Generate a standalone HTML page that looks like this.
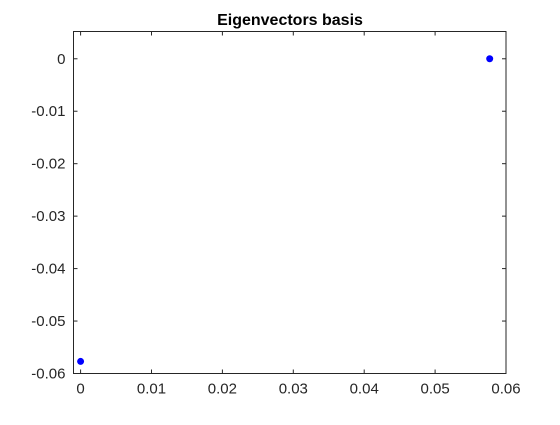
<!DOCTYPE html>
<html><head><meta charset="utf-8"><style>
body{margin:0;background:#fff;}
svg text{font-family:"Liberation Sans",sans-serif;}
</style></head><body>
<svg width="560" height="420" xmlns="http://www.w3.org/2000/svg">
<rect width="560" height="420" fill="#fff"/>
<text x="290" y="25" text-anchor="middle" font-size="16" font-weight="bold" fill="#000">Eigenvectors basis</text>
<g id="ticks"></g>
<g id="pts"></g>
<rect x="73.5" y="31.5" width="432.5" height="342" fill="none" stroke="#262626" stroke-width="1"/>
</svg>
<script>
const xTicks=[0,0.01,0.02,0.03,0.04,0.05,0.06];
const xTickLabels=["0","0.01","0.02","0.03","0.04","0.05","0.06"];
const yTicks=[0,-0.01,-0.02,-0.03,-0.04,-0.05,-0.06];
const yTickLabels=["0","-0.01","-0.02","-0.03","-0.04","-0.05","-0.06"];
const ptX=[0.0577,0];
const ptY=[0,-0.0577];
const L=73.5,R=506,T=31.5,B=373.5;
const xMin=-0.001,xMax=0.06,yMin=-0.06,yMax=0.0052;
const sx=v=>L+(v-xMin)/(xMax-xMin)*(R-L);
const sy=v=>B-(v-yMin)/(yMax-yMin)*(B-T);
const NS="http://www.w3.org/2000/svg";
const tg=document.getElementById('ticks');
function mk(tag,at){const e=document.createElementNS(NS,tag);for(const k in at)e.setAttribute(k,at[k]);return e;}
xTicks.forEach((v,i)=>{
 const x=sx(v);
 const t1=mk('line',{x1:x,x2:x,y1:B,y2:B-4,stroke:'#262626'});
 
 
 tg.appendChild(t1);
 const t2=mk('line',{x1:x,x2:x,y1:T,y2:T+4,stroke:'#262626'});
 
 
 tg.appendChild(t2);
 const tx=mk('text',{x:x,y:B+20,'text-anchor':'middle','font-size':15,fill:'#262626'});
 tx.textContent=xTickLabels[i];
 
 
 tg.appendChild(tx);
});
yTicks.forEach((v,i)=>{
 const y=sy(v);
 const t1=mk('line',{x1:L,x2:L+4,y1:y,y2:y,stroke:'#262626'});
 
 
 tg.appendChild(t1);
 const t2=mk('line',{x1:R,x2:R-4,y1:y,y2:y,stroke:'#262626'});
 
 
 tg.appendChild(t2);
 const tx=mk('text',{x:L-8,y:y+5,'text-anchor':'end','font-size':15,fill:'#262626'});
 tx.textContent=yTickLabels[i];
 
 
 tg.appendChild(tx);
});
const pg=document.getElementById('pts');
ptX.forEach((v,i)=>{
 const c=mk('circle',{cx:sx(v),cy:sy(ptY[i]),r:3.5,fill:'#0000ff'});
 
 
 pg.appendChild(c);
});
</script>
</body></html>
